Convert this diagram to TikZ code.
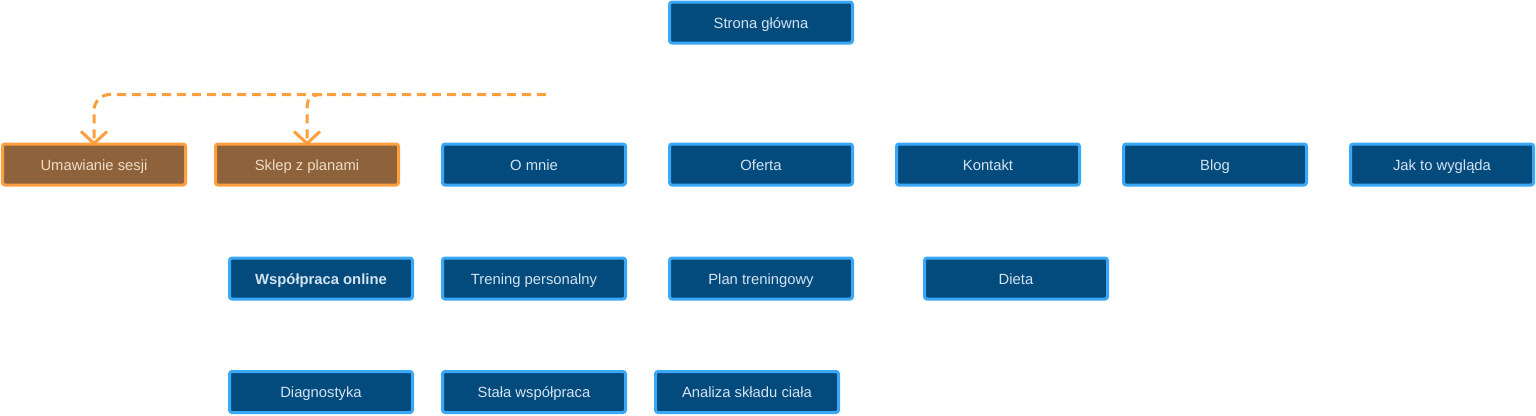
\documentclass[tikz,border=0pt]{standalone}
\usepackage{fontspec}
\setmainfont{Liberation Sans}
\usetikzlibrary{arrows.meta}
\definecolor{bfill}{HTML}{034B7D}
\definecolor{bline}{HTML}{3AA8F6}
\definecolor{btext}{HTML}{D3E3F1}
\definecolor{ofill}{HTML}{8E623A}
\definecolor{oline}{HTML}{FF9E3D}
\definecolor{otext}{HTML}{EEDCC6}
\tikzset{
  bluebox/.style={draw=bline, fill=bfill, line width=3pt, rounded corners=2.5pt,
    minimum width=183pt, minimum height=41pt, inner sep=0pt, text=btext,
    text height=13.5pt, text depth=2pt,
    font=\fontsize{14.8pt}{17pt}\selectfont},
  orangebox/.style={bluebox, draw=oline, fill=ofill, text=otext},
  dashlink/.style={draw=oline, line width=3pt, dash pattern=on 9pt off 6pt,
    -{Straight Barb[length=12pt,width=26pt,line width=3pt]}}
}
\begin{document}
\begin{tikzpicture}[x=1pt,y=-1pt]
\useasboundingbox (0,0) rectangle (1536,415);
\node[bluebox] (home) at (761,22.5) {Strona główna};
\node[orangebox] (umaw) at (94,164.5) {Umawianie sesji};
\node[orangebox] (sklep) at (307,164.5) {Sklep z planami};
\node[bluebox] (omnie) at (534,164.5) {O mnie};
\node[bluebox] (oferta) at (761,164.5) {Oferta};
\node[bluebox] (kontakt) at (988,164.5) {Kontakt};
\node[bluebox] (blog) at (1215,164.5) {Blog};
\node[bluebox] (jak) at (1442,164.5) {Jak to wygląda};
\node[bluebox, font=\fontsize{14.8pt}{17pt}\selectfont\bfseries] (wspol) at (321,278.5) {Współpraca online};
\node[bluebox] (trening) at (534,278.5) {Trening personalny};
\node[bluebox] (plan) at (761,278.5) {Plan treningowy};
\node[bluebox] (dieta) at (1016,278.5) {Dieta};
\node[bluebox] (diag) at (321,392) {Diagnostyka};
\node[bluebox] (stala) at (534,392) {Stała współpraca};
\node[bluebox] (analiza) at (747,392) {Analiza składu ciała};
\coordinate (ds) at (546,94.5);
\coordinate (br) at (322,94.5);
\draw[dashlink, rounded corners=16pt] (ds) -| ([yshift=-3pt]umaw.north);
\draw[dashlink] (br) .. controls (308,94.5) and (307,100) .. (307,112) -- ([yshift=-3pt]sklep.north);
\end{tikzpicture}
\end{document}
